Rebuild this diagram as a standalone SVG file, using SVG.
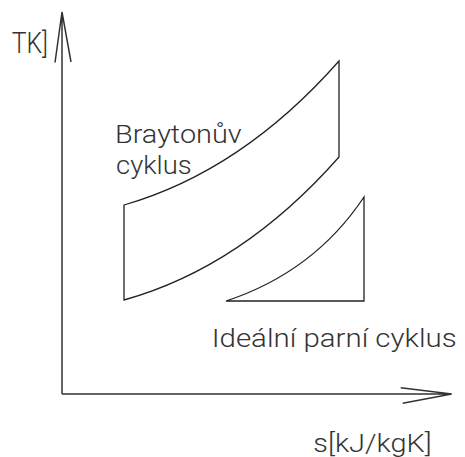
<svg xmlns="http://www.w3.org/2000/svg" width="465" height="457" viewBox="0 0 465 457">
<style>
.ln{fill:none;stroke:#222;stroke-width:1.3;stroke-linejoin:miter}
.ax{fill:none;stroke:#333;stroke-width:1.5}
.t{font-family:Roboto,"Liberation Sans",sans-serif;font-weight:300;font-size:26.5px;fill:#333}
</style>
<rect width="465" height="457" fill="#fff"/>
<g id="axes">
<path class="ax" d="M62 394V12M55 62.5L62 12L71 62M62 394H451.7M400.7 387.7L451.7 394L402.7 403.3"/>
</g>
<g id="brayton">
<path class="ln" d="M124 205Q242 171 339 61V157Q242 267 124 300Z"/>
</g>
<g id="steam">
<path class="ln" d="M226 301Q314 272 364 197V301Z"/>
</g>
<g id="labels">
<text class="t" x="11.7" y="52.7" textLength="36.3" lengthAdjust="spacingAndGlyphs" style="font-size:29px">TK]</text>
<text class="t" x="115" y="143.3" textLength="126.7" lengthAdjust="spacingAndGlyphs">Braytonův</text>
<text class="t" x="116" y="174" textLength="75.7" lengthAdjust="spacingAndGlyphs">cyklus</text>
<text class="t" x="211.7" y="346.7" textLength="245" lengthAdjust="spacingAndGlyphs">Ideální parní cyklus</text>
<text class="t" x="313.3" y="451.7" textLength="118.4" lengthAdjust="spacingAndGlyphs">s[kJ/kgK]</text>
</g>
</svg>
